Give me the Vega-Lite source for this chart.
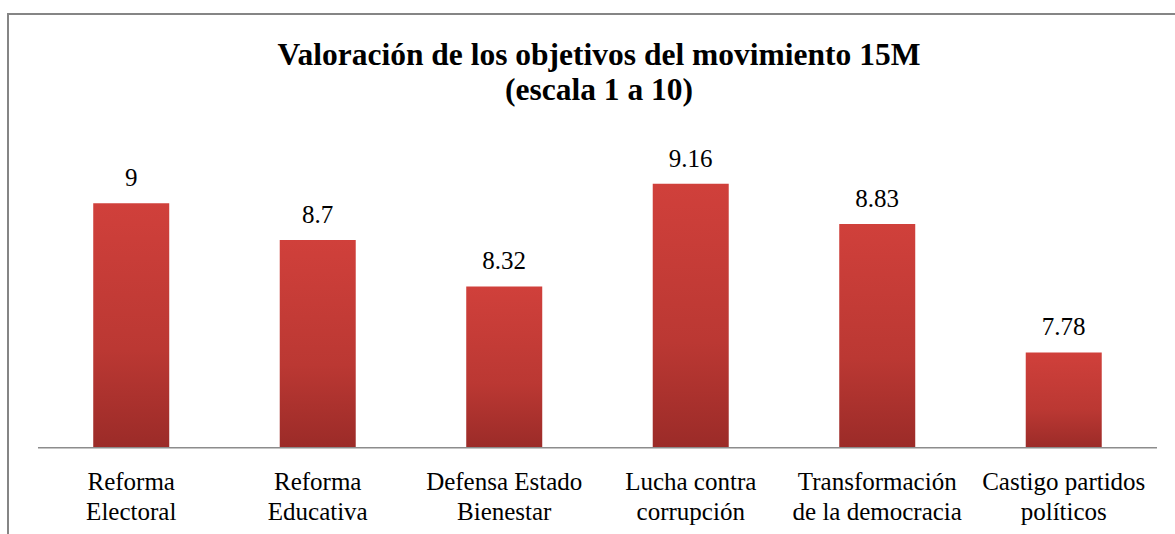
{
  "$schema": "https://vega.github.io/schema/vega-lite/v6.json",
  "autosize": "none",
  "width": 1170,
  "height": 525,
  "padding": {"left": 8, "top": 14, "right": 0, "bottom": 0},
  "background": "white",
  "config": {
    "view": {"stroke": "#858585", "strokeWidth": 2},
    "font": "Liberation Serif"
  },
  "title": {
    "text": ["Valoración de los objetivos del movimiento 15M", "(escala 1 a 10)"],
    "font": "Liberation Serif",
    "fontSize": 31.5,
    "fontWeight": "bold",
    "color": "black",
    "lineHeight": 35,
    "anchor": "middle",
    "frame": "group",
    "baseline": "alphabetic",
    "orient": "top",
    "offset": -117,
    "dx": 6
  },
  "data": {
    "values": [
      {"objetivo": "Reforma\nElectoral", "valor": 9, "etiqueta": "9"},
      {"objetivo": "Reforma\nEducativa", "valor": 8.7, "etiqueta": "8.7"},
      {"objetivo": "Defensa Estado\nBienestar", "valor": 8.32, "etiqueta": "8.32"},
      {"objetivo": "Lucha contra\ncorrupción", "valor": 9.16, "etiqueta": "9.16"},
      {"objetivo": "Transformación\nde la democracia", "valor": 8.83, "etiqueta": "8.83"},
      {"objetivo": "Castigo partidos\npolíticos", "valor": 7.78, "etiqueta": "7.78"}
    ]
  },
  "encoding": {
    "x": {
      "field": "objetivo",
      "type": "nominal",
      "sort": null,
      "scale": {
        "domain": ["Reforma\nElectoral", "Reforma\nEducativa", "Defensa Estado\nBienestar", "Lucha contra\ncorrupción", "Transformación\nde la democracia", "Castigo partidos\npolíticos"],
        "paddingInner": 0,
        "paddingOuter": 0.1367,
        "align": 0.588
      },
      "axis": {
        "orient": "bottom",
        "offset": -91,
        "domain": false,
        "ticks": false,
        "tickSize": 0,
        "grid": false,
        "title": null,
        "labelAngle": 0,
        "labelPadding": 41,
        "labelBaseline": "alphabetic",
        "labelFont": "Liberation Serif",
        "labelFontSize": 25,
        "labelLineHeight": 30,
        "labelColor": "black",
        "labelLimit": 400,
        "labelOverlap": false,
        "labelExpr": "split(datum.label, '\\n')"
      }
    },
    "y": {
      "field": "valor",
      "type": "quantitative",
      "scale": {"domain": [6.254, 10.549], "nice": false, "zero": false},
      "axis": null
    }
  },
  "layer": [
    {
      "mark": {
        "type": "bar",
        "width": {"band": 0.4075},
        "color": {
          "gradient": "linear",
          "x1": 0, "y1": 0, "x2": 0, "y2": 1,
          "stops": [
            {"offset": 0, "color": "#d0403b"},
            {"offset": 0.6, "color": "#bb3833"},
            {"offset": 1, "color": "#9b2b28"}
          ]
        }
      },
      "encoding": {
        "y2": {"datum": 7}
      }
    },
    {
      "mark": {
        "type": "text",
        "font": "Liberation Serif",
        "fontSize": 25,
        "color": "black",
        "baseline": "alphabetic",
        "dy": -17
      },
      "encoding": {
        "text": {"field": "etiqueta"}
      }
    },
    {
      "data": {"values": [{"base": 7}]},
      "mark": {"type": "rule", "color": "#8c8c8c", "strokeWidth": 1.5},
      "encoding": {
        "x": {"datum": "Reforma\nElectoral", "type": "nominal", "bandPosition": 0},
        "x2": {"datum": "Castigo partidos\npolíticos", "bandPosition": 1},
        "y": {"field": "base", "type": "quantitative"}
      }
    }
  ]
}
